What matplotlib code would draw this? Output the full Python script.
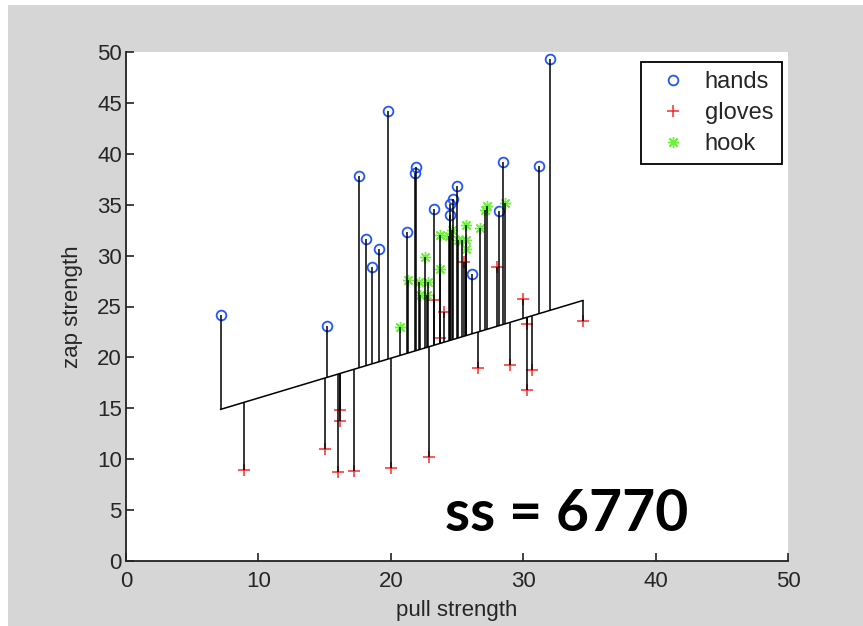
import matplotlib
matplotlib.use("Agg")
import matplotlib.pyplot as plt
from matplotlib.lines import Line2D
from matplotlib.patches import Rectangle

# data
hands_x = [7.15, 15.2, 17.6, 18.1, 18.6, 19.1, 19.8, 21.2, 21.8, 21.9,
           23.3, 24.5, 24.5, 24.7, 25.0, 26.1, 28.2, 28.5, 31.2, 32.0]
hands_y = [24.2, 23.1, 37.8, 31.6, 28.9, 30.6, 44.2, 32.3, 38.1, 38.7,
           34.6, 34.0, 35.1, 35.6, 36.8, 28.2, 34.4, 39.2, 38.8, 49.3]

gloves_x = [8.9, 15.0, 16.0, 16.2, 16.2, 17.2, 20.0, 22.9, 23.3, 24.0,
            23.7, 25.5, 26.6, 28.0, 29.0, 30.0, 30.3, 30.7, 30.3, 34.5]
gloves_y = [8.9, 11.0, 8.7, 14.8, 13.8, 8.8, 9.1, 10.2, 25.6, 24.5,
            21.9, 29.4, 19.0, 28.9, 19.3, 25.7, 23.3, 18.8, 16.8, 23.6]

hook_x = [20.7, 21.3, 22.1, 22.8, 22.2, 22.7, 22.6, 23.7, 23.7, 24.4,
          24.6, 25.1, 25.4, 25.7, 25.7, 25.7, 26.7, 27.1, 27.3, 28.6]
hook_y = [23.0, 27.6, 27.4, 27.4, 26.1, 26.1, 29.9, 32.0, 28.7, 31.9,
          32.5, 31.5, 31.5, 33.0, 31.5, 30.6, 32.7, 34.5, 34.9, 35.2]

fit_intercept = 12.10
fit_slope = 0.391
ss_label = "ss = 6770"

BG = "#d6d6d6"
TXT = "#262626"
plt.rcParams["font.family"] = ["Liberation Sans", "DejaVu Sans"]


def fit(x):
    return fit_intercept + fit_slope * x


fig = plt.figure(figsize=(8.63, 6.26), dpi=100, facecolor=BG)
# white screenshot border on top / left
fig.patches.append(Rectangle((0, 1 - 5 / 626), 1, 5 / 626, transform=fig.transFigure,
                             facecolor="white", edgecolor="none", zorder=0))
fig.patches.append(Rectangle((0, 0), 8 / 863, 1, transform=fig.transFigure,
                             facecolor="white", edgecolor="none", zorder=0))

ax = fig.add_axes([126 / 863, 65 / 626, 662 / 863, 509 / 626], facecolor="white")

groups = [
    (hands_x, hands_y, dict(marker="o", color="#2255ff", ms=7, mfc="none", mew=1.3), "hands"),
    (gloves_x, gloves_y, dict(marker="+", color="#ff2a2a", ms=9, mew=1.1), "gloves"),
    (hook_x, hook_y, dict(marker=(8, 2, 0), color="#6ef03c", ms=8, mew=1.0), "hook"),
]

handles = []
for xs, ys, style, name in groups:
    ax.plot(xs, ys, ls="none", zorder=2, **style)
    ax.vlines(xs, ys, [fit(x) for x in xs], color="black", lw=1.1, zorder=3)
    handles.append(Line2D([], [], ls="none", label=name, **style))

all_x = hands_x + gloves_x + hook_x
x0, x1 = min(all_x), max(all_x)
ax.plot([x0, x1], [fit(x0), fit(x1)], color="black", lw=1.1, zorder=3)

ax.set_xlim(0, 50)
ax.set_ylim(0, 50)
ax.set_xticks(range(0, 51, 10))
ax.set_yticks(range(0, 51, 5))
for s in ("top", "right"):
    ax.spines[s].set_visible(False)
for s in ("left", "bottom"):
    ax.spines[s].set_linewidth(1.3)
    ax.spines[s].set_color("#222222")
ax.tick_params(direction="in", length=6, width=1.2, labelsize=16,
               labelcolor=TXT, color="#222222")
ax.tick_params(axis="x", pad=7)
ax.tick_params(axis="y", pad=3)
ax.set_xlabel("pull strength", fontsize=16, color=TXT, labelpad=6)
ax.set_ylabel("zap strength", fontsize=16, color=TXT, labelpad=10)

leg = ax.legend(handles=handles, loc="upper right", bbox_to_anchor=(782 / 863, 564 / 626),
                bbox_transform=fig.transFigure, fontsize=17, frameon=True, fancybox=False,
                edgecolor="black", handlelength=1.95, handletextpad=0.35,
                borderpad=0.38, labelspacing=0.38, borderaxespad=0, framealpha=1)
leg.get_frame().set_linewidth(1.3)
for t in leg.get_texts():
    t.set_color(TXT)

fig.text(567 / 863, 1 - 531 / 626, ss_label, ha="center", va="baseline",
         fontsize=41, fontweight="bold", family=["Lato", "DejaVu Sans"], color="black")

fig.savefig("out.png", dpi=100, facecolor=BG)
